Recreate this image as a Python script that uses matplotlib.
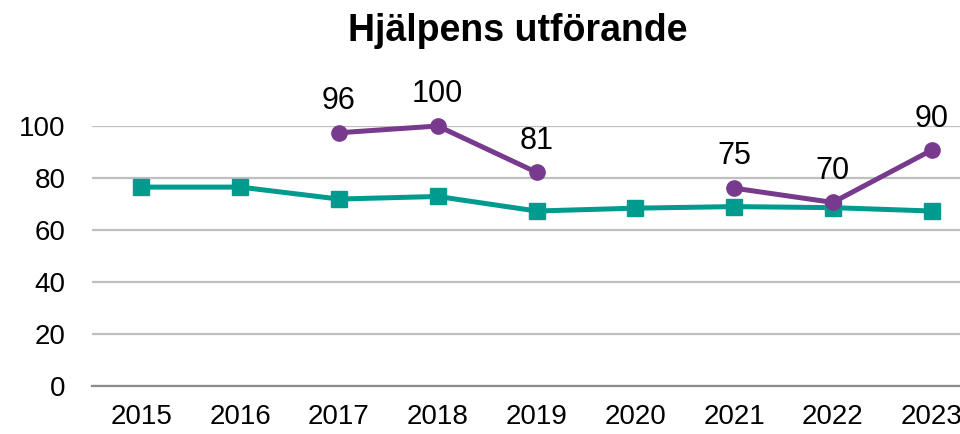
import matplotlib.pyplot as plt
import numpy as np

plt.rcParams["font.family"] = ["Liberation Sans", "DejaVu Sans"]

years = ["2015", "2016", "2017", "2018", "2019", "2020", "2021", "2022", "2023"]
# teal series (no labels)
teal_values = [76.5, 76.5, 71.9, 72.9, 67.3, 68.4, 69.0, 68.6, 67.3]
# purple series, gap in 2015, 2016 and 2020
purple_values = [np.nan, np.nan, 97.4, 100.0, 82.2, np.nan, 76.1, 70.6, 90.7]
purple_labels = ["", "", "96", "100", "81", "", "75", "70", "90"]

teal = "#009B8F"
purple = "#783A8D"

fig = plt.figure(figsize=(9.6, 4.34), dpi=100)
ax = fig.add_axes([92 / 960, 48 / 434, 889 / 960, 260 / 434])

x = np.arange(len(years))
ax.plot(x, teal_values, color=teal, lw=3.6, marker="s", markersize=11,
        clip_on=False, zorder=3)
ax.plot(x, purple_values, color=purple, lw=3.6, marker="o", markersize=11,
        clip_on=False, zorder=4)

for xi, v, lab in zip(x, purple_values, purple_labels):
    if lab:
        ax.annotate(lab, (xi, v), xytext=(0, 12), textcoords="offset points",
                    ha="center", va="bottom", fontsize=22, color="black",
                    annotation_clip=False)

ax.set_xlim(-0.5, len(years) - 0.5)
ax.set_ylim(0, 100)
ax.set_yticks(range(0, 101, 20))
ax.set_xticks(x)
ax.set_xticklabels(years)
ax.tick_params(axis="both", length=0, labelsize=20, colors="black")
ax.tick_params(axis="x", pad=13)
ax.tick_params(axis="y", pad=19)

ax.grid(axis="y", color="#BFBFBF", lw=1.6)
ax.set_axisbelow(True)
for s in ["top", "right", "left"]:
    ax.spines[s].set_visible(False)
ax.spines["bottom"].set_color("#8C8C8C")
ax.spines["bottom"].set_linewidth(1.6)

fig.text(518 / 960, 1 - 31 / 434, "Hjälpens utförande", ha="center",
         va="center", fontsize=27, fontweight="bold")

fig.savefig("out.png", dpi=100)
